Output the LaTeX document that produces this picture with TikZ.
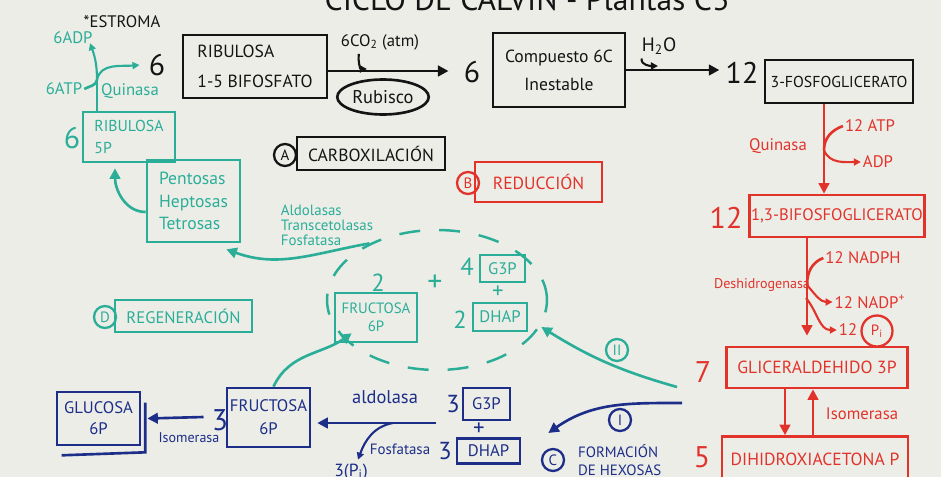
\documentclass[tikz,border=0pt]{standalone}
\usepackage{fontspec}
\setmainfont{PT Sans}
\usetikzlibrary{arrows.meta,shapes.geometric,calc}
\definecolor{board}{HTML}{EDEDE8}
\definecolor{inkK}{HTML}{141414}
\definecolor{inkT}{HTML}{2BAE98}
\definecolor{inkR}{HTML}{E2332B}
\definecolor{inkB}{HTML}{1C2E88}
\tikzset{
  bx/.style={draw, line width=1.5pt, inner sep=1pt, align=center, font=\fontsize{9.5}{12}\selectfont},
  tx/.style={inner sep=1pt, align=center, font=\fontsize{9.5}{11}\selectfont},
  num/.style={inner sep=0pt, font=\fontsize{17}{17}\selectfont},
  cl/.style={draw, circle, line width=1.3pt, inner sep=0.5pt, minimum size=0.44cm, font=\fontsize{8.5}{9}\selectfont},
  ar/.style={line width=1.5pt, -{Triangle[length=6pt,width=6pt]}},
  sar/.style={line width=1.2pt, -{Triangle[length=4pt,width=4pt]}},
  ln/.style={line width=1.5pt},
}
\begin{document}
\begin{tikzpicture}[x=0.02cm,y=-0.02cm]
\useasboundingbox (0,0) rectangle (941,477);
\fill[board] (0,0) rectangle (941,477);
\clip (0,0) rectangle (941,477);

% title (cut by the top edge)
\node[inkK, anchor=base, inner sep=0pt, font=\fontsize{18}{18}\selectfont] (title) at (527,10) {CICLO DE CALVIN - Plantas C3};

% ---------------- black: carboxilation ----------------
\node[inkK,tx] (estroma) at (122,22) {*ESTROMA};
\node[inkK,num] (sixA) at (157,65) {6};
\node[inkK,bx,minimum width=2.88cm,minimum height=1.26cm,align=left,font=\fontsize{10}{17}\selectfont] (rbp) at (255,66.5) {RIBULOSA\\1-5 BIFOSFATO};
\node[inkK,tx] (co2) at (380,42) {6CO\textsubscript{2} (atm)};
\node[inkK,draw,ellipse,ln,minimum width=1.8cm,minimum height=0.7cm,tx,font=\fontsize{10.5}{11}\selectfont] (rub) at (383,97) {Rubisco};
\node[inkK,num] (sixB) at (472,72) {6};
\node[inkK,bx,minimum width=2.64cm,minimum height=1.48cm,font=\fontsize{10}{16}\selectfont] (comp) at (559,70) {Compuesto 6C\\Inestable};
\node[inkK,tx,font=\fontsize{11}{12}\selectfont] (h2o) at (659,46) {H\textsubscript{2}O};
\node[inkK,num] (twelveA) at (742,73) {12};
\node[inkK,bx,minimum width=2.96cm,minimum height=0.86cm,font=\fontsize{9}{10}\selectfont] (pga) at (839,81.5) {3-FOSFOGLICERATO};
\node[inkK,cl] (cA) at (285,155) {A};
\node[inkK,bx,minimum width=2.96cm,minimum height=0.66cm,font=\fontsize{10}{11}\selectfont] (carb) at (371,153.5) {CARBOXILACIÓN};

\coordinate (co2tip) at (367,69);
\coordinate (h2otip) at (658,66);
\draw[inkK,ar] (rbp.east |- 0,71) -- ($(sixB.west |- 0,71)+(-15,0)$);
\draw[inkK,sar] ($(co2.south west)+(20,2)$) to[out=-100,in=180] (co2tip);
\draw[inkK,ar] (comp.east |- 0,70) -- ($(twelveA.west |- 0,70)+(-6,0)$);
\draw[inkK,sar] ($(h2o.south west)+(2,2)$) to[out=-100,in=180] (h2otip);

% ---------------- red: reduction ----------------
\node[inkR,cl] (cB) at (468,183) {B};
\node[inkR,bx,minimum width=2.54cm,minimum height=0.8cm,font=\fontsize{10}{11}\selectfont] (redu) at (538.5,182) {REDUCCIÓN};
\node[inkR,tx] (quinR) at (778,146) {Quinasa};
\node[inkR,tx] (atp) at (870,126) {12 ATP};
\node[inkR,tx] (adp) at (878,162) {ADP};
\node[inkR,num] (twelveB) at (726,218) {12};
\node[inkR,bx,minimum width=3.4cm,minimum height=0.84cm,font=\fontsize{9.5}{10}\selectfont] (bpg) at (837,216) {1,3-BIFOSFOGLICERATO};
\node[inkR,tx] (nadph) at (863,258) {12 NADPH};
\node[inkR,tx,font=\fontsize{8}{9}\selectfont] (desh) at (762,285) {Deshidrogenasa};
\node[inkR,tx] (nadp) at (870,302) {12 NADP\textsuperscript{+}};
\node[inkR,tx] (pit) at (848,330) {12};
\node[inkR,cl,minimum size=0.62cm] (pi) at (877,331) {P\textsubscript{i}};
\node[inkR,num] (seven) at (703,372) {7};
\node[inkR,bx,minimum width=3.62cm,minimum height=0.82cm,font=\fontsize{10}{11}\selectfont] (gald) at (817,367.5) {GLICERALDEHIDO 3P};
\node[inkR,tx] (isoR) at (862,414) {Isomerasa};
\node[inkR,num] (five) at (702,457) {5};
\node[inkR,bx,minimum width=3.72cm,minimum height=0.9cm,font=\fontsize{10}{11}\selectfont] (dha) at (815,459) {DIHIDROXIACETONA P};

\coordinate (kq) at (824,150);
\coordinate (kd) at (807,285);
\coordinate (kd2) at (806,298);
\draw[inkR,ar] (pga.south -| kq) -- (bpg.north -| kq);
\draw[inkR,ln] (atp.west) to[out=200,in=90] (kq);
\draw[inkR,sar] (kq) to[out=-70,in=180] (adp.west);
\draw[inkR,ar] (bpg.south -| kd) -- ($(gald.north -| kd)+(0,-10)$);
\draw[inkR,ln] (nadph.west) to[out=200,in=90] (kd);
\draw[inkR,sar] (kd) to[out=-50,in=180] (nadp.west);
\draw[inkR,sar] (kd2) to[out=-50,in=180] (pit.west);
\draw[inkR,ar] ($(gald.south)+(-32,0)$) -- ($(dha.north)+(-30,0)$);
\draw[inkR,ar] ($(dha.north)+(-2,0)$) -- ($(gald.south)+(-4,0)$);

% ---------------- teal: regeneration ----------------
\node[inkT,tx] (adp6) at (73,38) {6ADP};
\node[inkT,tx] (atp6) at (64,89) {6ATP};
\node[inkT,tx] (quinT) at (130,91) {Quinasa};
\node[inkT,num] (sixC) at (72,138) {6};
\node[inkT,bx,minimum width=1.84cm,minimum height=1.0cm,align=left,font=\fontsize{9}{12}\selectfont] (r5p) at (129,137) {RIBULOSA\\5P};
\node[inkT,bx,minimum width=1.86cm,minimum height=1.64cm,align=left,font=\fontsize{10}{13}\selectfont] (pent) at (193.5,201) {Pentosas\\Heptosas\\Tetrosas};
\node[inkT,tx,align=left,font=\fontsize{8.5}{8.5}\selectfont] (enz) at (327,225) {Aldolasas\\Transcetolasas\\Fosfatasa};
\node[inkT,cl] (cD) at (105,317) {D};
\node[inkT,bx,minimum width=2.74cm,minimum height=0.64cm,font=\fontsize{9.5}{10}\selectfont] (regen) at (183.5,316) {REGENERACIÓN};
\node[inkT,draw,ellipse,line width=1.4pt,dash pattern=on 0.42cm off 0.38cm,minimum width=4.4cm,minimum height=2.8cm] (grp) at (437,300) {};
\node[inkT,num,font=\fontsize{14}{14}\selectfont] (twoA) at (378,283) {2};
\node[inkT,bx,minimum width=1.64cm,minimum height=0.98cm,font=\fontsize{8.5}{10}\selectfont] (fruT) at (376,317.5) {FRUCTOSA\\6P};
\node[inkT,num] (plusA) at (435,283) {+};
\node[inkT,num,font=\fontsize{14}{14}\selectfont] (fourT) at (467,267) {4};
\node[inkT,bx,minimum width=0.9cm,minimum height=0.54cm] (g3pT) at (502.5,268.5) {G3P};
\node[inkT,num,font=\fontsize{13}{13}\selectfont] (plusB) at (498,292) {+};
\node[inkT,num,font=\fontsize{14}{14}\selectfont] (twoB) at (460,320) {2};
\node[inkT,bx,minimum width=1.08cm,minimum height=0.56cm] (dhapT) at (500,317) {DHAP};
\node[inkT,cl] (cII) at (617,350) {II};

\coordinate (kt) at (97,80);
\coordinate (iiStart) at (677,387);
\draw[inkT,ln] (r5p.north -| kt) -- (kt);
\draw[inkT,sar] (kt) to[out=90,in=-70] ($(adp6.south)+(17,-3)$);
\draw[inkT,sar] (kt) to[out=80,in=185] ($(sixA.west)+(-9,0)$);
\draw[inkT,ln] (atp6.east) to[out=30,in=-100] (kt);
\draw[inkT,ar] (pent.west |- 0,212) to[out=180,in=-90] ($(r5p.south)+(-14,5)$);
\draw[inkT,ar] (grp.140) to[out=190,in=-20] ($(pent.south east)+(-15,6)$);
\draw[inkT,ar] (iiStart) to[bend left=8] ($(dhapT.east)+(13,10)$);

% ---------------- blue: hexose formation ----------------
\node[inkB,bx,minimum width=1.66cm,minimum height=1.06cm,font=\fontsize{9.5}{12}\selectfont] (glu) at (98.5,418.5) {GLUCOSA\\6P};
\node[inkB,tx,font=\fontsize{8}{9}\selectfont] (isoB) at (189,438) {Isomerasa};
\node[inkB,num] (threeA) at (220,420) {3};
\node[inkB,bx,minimum width=1.66cm,minimum height=1.18cm,font=\fontsize{9.5}{13}\selectfont] (fruB) at (268.5,417.5) {FRUCTOSA\\6P};
\node[inkB,tx,font=\fontsize{10.5}{11}\selectfont] (aldo) at (385,397) {aldolasa};
\node[inkB,num,font=\fontsize{14}{14}\selectfont] (threeB) at (453,404) {3};
\node[inkB,bx,minimum width=0.94cm,minimum height=0.64cm] (g3pB) at (486.5,404) {G3P};
\node[inkB,num,font=\fontsize{13}{13}\selectfont] (plusC) at (479,429) {+};
\node[inkB,num,font=\fontsize{14}{14}\selectfont] (threeC) at (445,451) {3};
\node[inkB,bx,minimum width=1.26cm,minimum height=0.5cm] (dhapB) at (488.5,451) {DHAP};
\node[inkB,tx,font=\fontsize{8.5}{9}\selectfont] (fosf) at (400,449) {Fosfatasa};
\node[inkB,tx,font=\fontsize{10}{10}\selectfont] (pi3) at (351,472) {3(P\textsubscript{i})};
\node[inkB,cl] (cI) at (620,420) {I};
\node[inkB,cl] (cC) at (553,460) {C};
\node[inkB,tx,anchor=west,align=left,font=\fontsize{8.5}{10}\selectfont] (form) at (576,460) {FORMACIÓN\\DE HEXOSAS};

\coordinate (aldStart) at (436,423);
\coordinate (kb) at (393,423);
\coordinate (iStart) at (682,403);
\draw[inkB,ln] ($(glu.south west)+(6,9)$) -- ($(glu.south east)+(4,6)$) -- ($(glu.north east)+(4,12)$);
\draw[inkB,ar] ($(threeA.west)+(-8,-3)$) -- ($(glu.east)+(6,0)$);
\draw[inkB,ar] (aldStart) -- ($(fruB.east |- aldStart)+(6,0)$);
\draw[inkB,sar] (kb) to[out=190,in=70] ($(pi3.north)+(7,-2)$);
\draw[inkB,ar] (iStart) to[out=180,in=35] ($(dhapB.east)+(27,-18)$);
\draw[inkT,ar] ($(fruB.north)+(5,0)$) to[out=65,in=215] ($(fruT.south west)+(18,-10)$);
\end{tikzpicture}
\end{document}
